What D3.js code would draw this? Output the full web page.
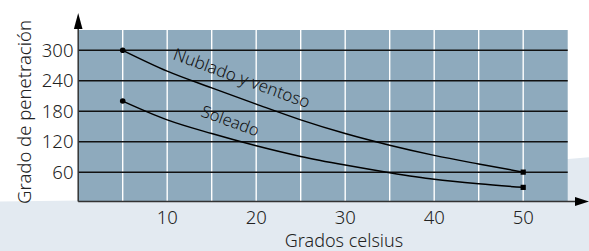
<!DOCTYPE html>
<html>
<head>
<meta charset="utf-8">
<script src="https://cdn.jsdelivr.net/npm/d3@7"></script>
<style>
  body { margin: 0; background: #fff; }
  svg { display: block; font-family: "Noto Sans", sans-serif; font-weight: 300; }
</style>
</head>
<body>
<div id="chart"></div>
<script>
"use strict";

// data
var temps = [5, 10, 15, 20, 25, 30, 35, 40, 45, 50];
var nublado = [300, 259, 226, 194, 163, 136, 113, 93, 76, 60];
var soleado = [200, 163, 136, 112, 91, 74, 59, 46, 37, 30];
var yTicks = [60, 120, 180, 240, 300];
var xTicks = [10, 20, 30, 40, 50];
var xGrid = [5, 10, 15, 20, 25, 30, 35, 40, 45, 50];

var width = 589, height = 251;

var svg = d3.select("#chart").append("svg")
  .attr("width", width)
  .attr("height", height);

// scales
var x = d3.scaleLinear().domain([0, 55]).range([78.2, 567.7]);
var y = d3.scaleLinear().domain([0, 340]).range([202.6, 30]);
var axisY = 201.5;

// pale band at the bottom
svg.append("path")
  .attr("d", "M0,201.5 L80,200.6 L568,159 L589,157.3 L589,251 L0,251 Z")
  .attr("fill", "#e3eaf1");

// plot background
svg.append("rect")
  .attr("x", x(0))
  .attr("y", y(340))
  .attr("width", x(55) - x(0))
  .attr("height", axisY - y(340))
  .attr("fill", "#8eaabd");

// vertical white grid
svg.selectAll(".vgrid")
  .data(xGrid)
  .enter()
  .append("line")
  .attr("class", "vgrid")
  .attr("x1", d => x(d)).attr("x2", d => x(d))
  .attr("y1", y(340)).attr("y2", axisY)
  .attr("stroke", "#fff")
  .attr("stroke-width", 1.4);

// horizontal black grid
svg.selectAll(".hgrid")
  .data(yTicks)
  .enter()
  .append("line")
  .attr("class", "hgrid")
  .attr("x1", x(0)).attr("x2", x(55))
  .attr("y1", d => y(d)).attr("y2", d => y(d))
  .attr("stroke", "#111")
  .attr("stroke-width", 1.5);

// axes with arrows
svg.append("line")
  .attr("x1", x(0)).attr("x2", 576)
  .attr("y1", axisY).attr("y2", axisY)
  .attr("stroke", "#333").attr("stroke-width", 1.5);
svg.append("path")
  .attr("d", "M575," + (axisY - 4.5) + " L589," + axisY + " L575," + (axisY + 4.5) + " Z")
  .attr("fill", "#000");
svg.append("line")
  .attr("x1", x(0)).attr("x2", x(0))
  .attr("y1", axisY).attr("y2", 28)
  .attr("stroke", "#333").attr("stroke-width", 1.5);
svg.append("path")
  .attr("d", "M" + (x(0) - 4.3) + ",29 L" + x(0) + ",13 L" + (x(0) + 4.3) + ",29 Z")
  .attr("fill", "#000");

// tick labels
svg.selectAll(".ylab")
  .data(yTicks)
  .enter()
  .append("text")
  .attr("class", "ylab")
  .attr("x", 73.5)
  .attr("y", d => y(d) + 6.4)
  .attr("text-anchor", "end")
  .attr("font-size", 18.5)
  .attr("fill", "#222")
  .text(d => d);

svg.selectAll(".xlab")
  .data(xTicks)
  .enter()
  .append("text")
  .attr("class", "xlab")
  .attr("x", d => x(d))
  .attr("y", 223.5)
  .attr("text-anchor", "middle")
  .attr("font-size", 18.5)
  .attr("fill", "#222")
  .text(d => d);

// axis titles
svg.append("text")
  .attr("x", 344)
  .attr("y", 246.5)
  .attr("text-anchor", "middle")
  .attr("font-size", 18)
  .attr("fill", "#222")
  .text("Grados celsius");

svg.append("text")
  .attr("transform", "translate(31,112) rotate(-90)")
  .attr("text-anchor", "middle")
  .attr("font-size", 18.5)
  .attr("fill", "#222")
  .text("Grado de penetración");

// curves
var line = d3.line()
  .x(d => x(d[0]))
  .y(d => y(d[1]))
  .curve(d3.curveMonotoneX);

[nublado, soleado].forEach(function(series) {
  var pts = temps.map((t, i) => [t, series[i]]);
  svg.append("path")
    .datum(pts)
    .attr("d", line)
    .attr("fill", "none")
    .attr("stroke", "#000")
    .attr("stroke-width", 1.5);

  svg.append("circle")
    .attr("cx", x(pts[0][0]))
    .attr("cy", y(pts[0][1]))
    .attr("r", 2.8)
    .attr("fill", "#000");

  var last = pts[pts.length - 1];
  svg.append("rect")
    .attr("x", x(last[0]) - 2.6)
    .attr("y", y(last[1]) - 2.6)
    .attr("width", 5.2)
    .attr("height", 5.2)
    .attr("fill", "#000");
});

// curve labels
svg.append("text")
  .attr("transform", "translate(172,59) rotate(20)")
  .attr("font-size", 17)
  .attr("fill", "#111")
  .text("Nublado y ventoso");

svg.append("text")
  .attr("transform", "translate(200,116) rotate(20)")
  .attr("font-size", 16.5)
  .attr("fill", "#111")
  .text("Soleado");
</script>
</body>
</html>
